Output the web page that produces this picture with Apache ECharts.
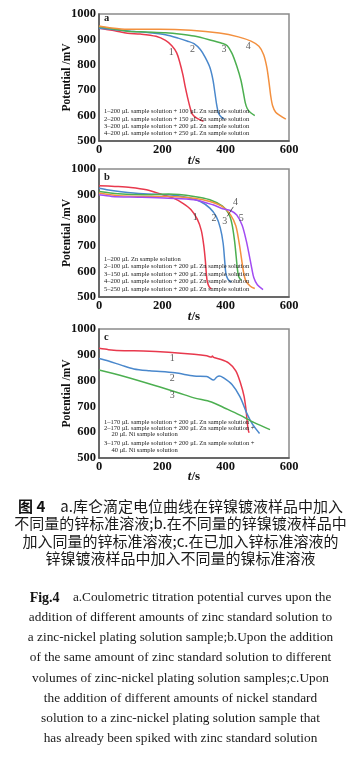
<!DOCTYPE html>
<html><head><meta charset="utf-8">
<script src="https://cdn.jsdelivr.net/npm/echarts@6/dist/echarts.min.js"></script>
<style>html,body{margin:0;padding:0;background:#fff}#c{width:361px;height:784px}</style>
</head><body><div id="c"></div>
<script>
// ---- data (t / s, potential / mV) ----
var xTicks = [0, 200, 400, 600];
var yTicks = [500, 600, 700, 800, 900, 1000];

// panel a
var a1 = [[0,944],[20,940],[50,934],[90,924],[130,921],[180,912],[210,896],[230,875],[245,848],[255,810],[265,760],[272,715],[280,670],[288,630],[295,605],[310,589],[330,578]];
var a2 = [[0,944],[50,938],[100,932],[160,926],[210,918],[250,905],[280,893],[300,883],[320,860],[335,830],[350,790],[360,740],[366,690],[372,640],[378,608],[388,592],[395,587]];
var a3 = [[0,950],[40,942],[90,932],[150,929],[210,926],[260,920],[300,913],[350,898],[390,884],[405,875],[420,845],[435,795],[448,740],[456,690],[462,650],[468,628],[478,612],[492,600]];
var a4 = [[0,953],[40,945],[90,940],[190,940],[290,936],[380,925],[440,910],[480,893],[505,873],[520,840],[530,790],[537,730],[542,680],[548,640],[558,613],[572,600],[590,586]];
var aNums = [[228,849,'1'],[295,859,'2'],[395,862,'3'],[471,872,'4']];
var aLegend = ['1\u2013200 \u03bcL sample solution + 100 \u03bcL Zn sample solution',
               '2\u2013200 \u03bcL sample solution + 150 \u03bcL Zn sample solution',
               '3\u2013200 \u03bcL sample solution + 200 \u03bcL Zn sample solution',
               '4\u2013200 \u03bcL sample solution + 250 \u03bcL Zn sample solution'];

// panel b
var b1 = [[0,935],[50,932],[100,928],[150,919],[200,900],[235,886],[265,866],[290,842],[310,805],[323,760],[331,700],[336,640],[339,590],[342,560],[348,540],[355,532]];
var b2 = [[0,925],[30,918],[70,911],[140,903],[220,899],[275,890],[320,873],[350,847],[370,815],[383,770],[392,710],[397,640],[401,590],[407,570],[418,558]];
var b3 = [[0,912],[60,903],[140,899],[220,902],[300,893],[350,880],[390,855],[410,825],[420,785],[428,720],[433,660],[437,610],[441,580],[449,565]];
var b4 = [[0,906],[60,896],[140,893],[220,893],[300,886],[350,873],[390,853],[415,822],[432,778],[442,715],[450,650],[456,600],[463,565],[478,542],[492,533]];
var b5 = [[0,899],[40,893],[130,890],[220,886],[300,880],[360,860],[390,845],[415,838],[435,820],[452,780],[465,720],[475,660],[482,615],[489,575],[500,548],[518,529]];
var bNums = [[304,812,'1'],[363,806,'2'],[397,795,'3'],[431,869,'4'],[449,808,'5']];
var bLeader = [[424,852],[405,815]];
var bLegend = ['1\u2013200 \u03bcL Zn sample solution',
               '2\u2013100 \u03bcL sample solution + 200 \u03bcL Zn sample solution',
               '3\u2013150 \u03bcL sample solution + 200 \u03bcL Zn sample solution',
               '4\u2013200 \u03bcL sample solution + 200 \u03bcL Zn sample solution',
               '5\u2013250 \u03bcL sample solution + 200 \u03bcL Zn sample solution'];

// panel c
var c1 = [[0,925],[30,920],[80,916],[140,915],[220,910],[300,902],[340,896],[355,891],[358,895],[362,890],[380,884],[410,868],[432,838],[447,790],[458,740],[464,690],[468,640],[471,610],[474,598]];
var c2 = [[0,886],[30,876],[70,860],[110,845],[160,838],[240,830],[300,818],[340,816],[362,802],[372,814],[380,818],[392,812],[420,785],[445,738],[468,670],[485,630],[507,595]];
var c3 = [[0,841],[80,816],[190,776],[250,753],[300,733],[355,717],[400,692],[445,666],[490,637],[540,610]];
var cNums = [[231,886,'1'],[231,808,'2'],[231,744,'3']];
var cLegend = ['1\u2013170 \u03bcL sample solution + 200 \u03bcL Zn sample solution',
               '2\u2013170 \u03bcL sample solution + 200 \u03bcL Zn sample solution +',
               '20 \u03bcL Ni sample solution',
               '3\u2013170 \u03bcL sample solution + 200 \u03bcL Zn sample solution +',
               '40 \u03bcL Ni sample solution'];

var captionCN = ['{b|\u56fe 4}\u3000a.\u5e93\u4ed1\u6ef4\u5b9a\u7535\u4f4d\u66f2\u7ebf\u5728\u950c\u954d\u9540\u6db2\u6837\u54c1\u4e2d\u52a0\u5165',
                 '\u4e0d\u540c\u91cf\u7684\u950c\u6807\u51c6\u6eb6\u6db2;b.\u5728\u4e0d\u540c\u91cf\u7684\u950c\u954d\u9540\u6db2\u6837\u54c1\u4e2d',
                 '\u52a0\u5165\u540c\u91cf\u7684\u950c\u6807\u51c6\u6eb6\u6db2;c.\u5728\u5df2\u52a0\u5165\u950c\u6807\u51c6\u6eb6\u6db2\u7684',
                 '\u950c\u954d\u9540\u6db2\u6837\u54c1\u4e2d\u52a0\u5165\u4e0d\u540c\u91cf\u7684\u954d\u6807\u51c6\u6eb6\u6db2'];
var captionEN = ['{b|Fig.4}    a.Coulometric titration potential curves upon the',
                 'addition of different amounts of zinc standard solution to',
                 'a zinc-nickel plating solution sample;b.Upon the addition',
                 'of the same amount of zinc standard solution to different',
                 'volumes of zinc-nickel plating solution samples;c.Upon',
                 'the addition of different amounts of nickel standard',
                 'solution to a zinc-nickel plating solution sample that',
                 'has already been spiked with zinc standard solution'];

// ---- styles ----
var RED='#e8394d', BLUE='#4a88cc', GREEN='#4caf50', ORANGE='#f3903f', PURPLE='#a24cf2';
var SERIF = '"Liberation Serif","DejaVu Serif",serif';
var grids = [
  {left:99, top:14, width:190, height:127},
  {left:99, top:169, width:190, height:128},
  {left:99, top:329, width:190, height:129}
];
var xGaps = [13,13,12];

var option = {
  animation:false,
  backgroundColor:'#fff',
  grid: grids.map(function(g){return Object.assign({show:true, borderColor:'#8a8a8a', borderWidth:1.5, backgroundColor:'#fff'}, g);}),
  xAxis: grids.map(function(g,i){return {
    gridIndex:i, type:'value', min:0, max:600, interval:200,
    axisLine:{show:true, onZero:false, lineStyle:{color:'#555', width:1.5}},
    axisTick:{show:false}, splitLine:{show:false},
    axisLabel:{color:'#111', fontFamily:SERIF, fontWeight:'bold', fontSize:12.5, margin:2, formatter:function(v){return String(v);}},
    name:'{i|t}{n|/s}', nameLocation:'middle', nameGap:xGaps[i], nameMoveOverlap:false,
    nameTextStyle:{rich:{i:{fontFamily:SERIF,fontStyle:'italic',fontWeight:'bold',fontSize:13,color:'#111'},n:{fontFamily:SERIF,fontWeight:'bold',fontSize:13,color:'#111'}}}
  };}),
  yAxis: grids.map(function(g,i){return {
    gridIndex:i, type:'value', min:500, max:1000, interval:100,
    axisLine:{show:true, onZero:false, lineStyle:{color:'#555', width:1.5}},
    axisTick:{show:false}, splitLine:{show:false},
    axisLabel:{color:'#111', fontFamily:SERIF, fontWeight:'bold', fontSize:12.5, margin:3, formatter:function(v){return String(v);}},
    name:'Potential /mV', nameLocation:'middle', nameGap:26, nameMoveOverlap:false,
    nameTextStyle:{fontFamily:SERIF, fontWeight:'bold', fontSize:11.5, color:'#111'}
  };}),
  series: [],
  graphic: []
};

function curve(data, color, gi){
  option.series.push({type:'line', data:data, xAxisIndex:gi, yAxisIndex:gi, showSymbol:false, smooth:0.3,
    lineStyle:{color:color, width:1.5}, itemStyle:{color:color}, z:3});
}
function nums(data, gi){
  option.series.push({type:'scatter', data:data, xAxisIndex:gi, yAxisIndex:gi, symbolSize:0,
    label:{show:true, position:'inside', formatter:function(p){return p.value[2];}, fontFamily:SERIF, fontSize:10, color:'#333'}, z:5});
}
curve(a1,RED,0); curve(a2,BLUE,0); curve(a3,GREEN,0); curve(a4,ORANGE,0); nums(aNums,0);
curve(b1,RED,1); curve(b2,BLUE,1); curve(b3,GREEN,1); curve(b4,ORANGE,1); curve(b5,PURPLE,1); nums(bNums,1);
option.series.push({type:'line', data:bLeader, xAxisIndex:1, yAxisIndex:1, showSymbol:false, lineStyle:{color:'#333', width:0.8}, z:4});
curve(c1,RED,2); curve(c2,BLUE,2); curve(c3,GREEN,2); nums(cNums,2);

function txt(x,y,s,size,extra){
  var st = Object.assign({text:s, fontFamily:SERIF, fontSize:size, fill:'#222', textVerticalAlign:'middle', textAlign:'left'}, extra||{});
  option.graphic.push({type:'text', x:x, y:y, style:st, z:10});
}
// panel letters
txt(104,18.5,'a',10.5,{fontWeight:'bold'});
txt(104,177.5,'b',10.5,{fontWeight:'bold'});
txt(104,337,'c',10.5,{fontWeight:'bold'});
// in-plot legends
var aY=[111.3,118.8,126.2,133.6];
aLegend.forEach(function(s,i){txt(104,aY[i],s,6.5);});
var bY=[259.1,266.6,274.1,281.5,288.9];
bLegend.forEach(function(s,i){txt(104,bY[i],s,6.5);});
var cY=[422.4,428.4,434.3,442.8,449.8];
var cX=[104,104,111.5,104,111.5];
cLegend.forEach(function(s,i){txt(cX[i],cY[i],s,6.5);});

// caption
var cnY=[506,523.5,541,558.5];
captionCN.forEach(function(s,i){
  txt(180.5,cnY[i],s,15,{textAlign:'center', fontFamily:'"Noto Sans CJK SC",sans-serif', fill:'#1a1a1a',
    rich:{b:{fontFamily:'"Noto Sans CJK SC",sans-serif', fontWeight:'bold', fontSize:15, fill:'#111'}}});
});
var enY=[598,618,638,658,678.5,698.5,719,739];
captionEN.forEach(function(s,i){
  txt(180.5,enY[i],s,13.3,{textAlign:'center', fill:'#1a1a1a',
    rich:{b:{fontFamily:SERIF, fontWeight:'bold', fontSize:14, fill:'#111'}}});
});

var chart = echarts.init(document.getElementById('c'), null, {renderer:'canvas'});
chart.setOption(option);
</script>
</body></html>
